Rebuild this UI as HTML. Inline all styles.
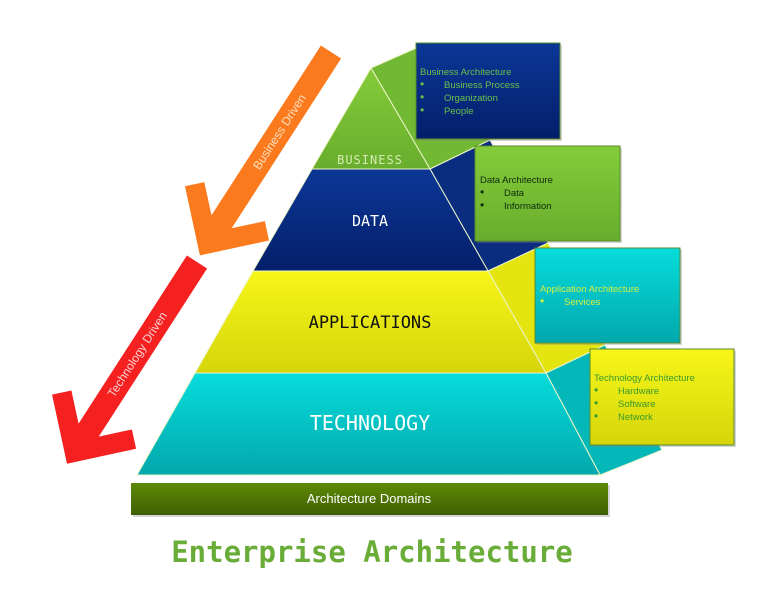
<!DOCTYPE html>
<html><head><meta charset="utf-8"><style>
html,body{margin:0;padding:0;background:#fff;width:759px;height:601px;overflow:hidden}
svg{display:block}
</style></head><body>
<svg width="759" height="601" viewBox="0 0 759 601" xmlns="http://www.w3.org/2000/svg">
<defs>
<linearGradient id="gG" x1="0" y1="0" x2="0" y2="1"><stop offset="0" stop-color="#84cc3a"/><stop offset="1" stop-color="#68ad2c"/></linearGradient>
<linearGradient id="gB" x1="0" y1="0" x2="0" y2="1"><stop offset="0" stop-color="#0b3796"/><stop offset="1" stop-color="#041f6a"/></linearGradient>
<linearGradient id="gY" x1="0" y1="0" x2="0" y2="1"><stop offset="0" stop-color="#f6f61a"/><stop offset="1" stop-color="#d5d50a"/></linearGradient>
<linearGradient id="gC" x1="0" y1="0" x2="0" y2="1"><stop offset="0" stop-color="#06dcdc"/><stop offset="1" stop-color="#02a8ac"/></linearGradient>
<linearGradient id="gO" x1="0" y1="0" x2="0" y2="1"><stop offset="0" stop-color="#5d8a05"/><stop offset="1" stop-color="#3f5e02"/></linearGradient>
</defs>
<g stroke="#eef5c8" stroke-width="1">
<polygon points="371,68 430,42 490,140 430,169" fill="#72b933"/>
<polygon points="371,68 312,169 430,169" fill="url(#gG)"/>
<polygon points="430,169 490,140 548,243 488,271" fill="#0a2d80"/>
<polygon points="312,169 253,271 488,271 430,169" fill="url(#gB)"/>
<polygon points="488,271 548,243 605,345 546,373" fill="#e4e410"/>
<polygon points="253,271 195,373 546,373 488,271" fill="url(#gY)"/>
<polygon points="546,373 605,345 662,450 600,475" fill="#04b8ba"/>
<polygon points="195,373 137,475 600,475 546,373" fill="url(#gC)"/>
</g>
<g font-family="'DejaVu Sans Mono','Liberation Mono',monospace" text-anchor="middle">
<text x="370" y="164" font-size="12" fill="#d6ecb4" letter-spacing="1">BUSINESS</text>
<text x="370" y="226" font-size="15" fill="#fff">DATA</text>
<text x="370" y="328" font-size="17" fill="#111">APPLICATIONS</text>
<text x="370" y="430" font-size="20" fill="#fff">TECHNOLOGY</text>
</g>
<g stroke="#5a8a2a" stroke-width="1">
<rect x="418" y="45" width="144" height="96" fill="#888" opacity=".35" stroke="none"/>
<rect x="416" y="43" width="144" height="96" fill="url(#gB)"/>
<rect x="477" y="148" width="145" height="95" fill="#888" opacity=".35" stroke="none"/>
<rect x="475" y="146" width="145" height="95" fill="url(#gG)"/>
<rect x="537" y="250" width="145" height="95" fill="#888" opacity=".35" stroke="none"/>
<rect x="535" y="248" width="145" height="95" fill="url(#gC)"/>
<rect x="592" y="351" width="144" height="96" fill="#888" opacity=".35" stroke="none"/>
<rect x="590" y="349" width="144" height="96" fill="url(#gY)"/>
</g>
<g font-family="'Liberation Sans',sans-serif" font-size="9.5">
<g fill="#6cc04a">
<text x="420" y="75">Business Architecture</text>
<text x="420" y="88" font-size="12">•</text><text x="444" y="88">Business Process</text>
<text x="420" y="101" font-size="12">•</text><text x="444" y="101">Organization</text>
<text x="420" y="114" font-size="12">•</text><text x="444" y="114">People</text>
</g>
<g fill="#0d2a10">
<text x="480" y="183">Data Architecture</text>
<text x="480" y="196" font-size="12">•</text><text x="504" y="196">Data</text>
<text x="480" y="209" font-size="12">•</text><text x="504" y="209">Information</text>
</g>
<g fill="#d8f040">
<text x="540" y="292">Application Architecture</text>
<text x="540" y="305" font-size="12">•</text><text x="564" y="305">Services</text>
</g>
<g fill="#3a9a2a">
<text x="594" y="381">Technology  Architecture</text>
<text x="594" y="394" font-size="12">•</text><text x="618" y="394">Hardware</text>
<text x="594" y="407" font-size="12">•</text><text x="618" y="407">Software</text>
<text x="594" y="420" font-size="12">•</text><text x="618" y="420">Network</text>
</g>
</g>
<g transform="translate(331,52) rotate(122.8)">
<polygon points="0,-12 202,-12 178,-36 192,-50 242,0 192,50 178,36 202,12 0,12" fill="#fb7a1e"/>
<text x="95" y="4" transform="rotate(180 95 0)" font-family="'Liberation Sans',sans-serif" font-size="12" fill="#ffe0c0" text-anchor="middle">Business Driven</text>
</g>
<g transform="translate(197,262) rotate(122.8)">
<polygon points="0,-12 200,-12 176,-36 190,-50 240,0 190,50 176,36 200,12 0,12" fill="#f52020"/>
<text x="110" y="4" transform="rotate(180 110 0)" font-family="'Liberation Sans',sans-serif" font-size="12" fill="#ffd0d0" text-anchor="middle">Technology Driven</text>
</g>
<rect x="133" y="485" width="477" height="32" fill="#999" opacity=".4"/>
<rect x="131" y="483" width="477" height="32" fill="url(#gO)"/>
<text x="369" y="503" font-family="'Liberation Sans',sans-serif" font-size="13" fill="#fff" text-anchor="middle">Architecture Domains</text>
<text x="372" y="562" font-family="'DejaVu Sans Mono','Liberation Mono',monospace" font-weight="bold" font-size="29" fill="#6aac38" text-anchor="middle">Enterprise Architecture</text>
</svg>
</body></html>
